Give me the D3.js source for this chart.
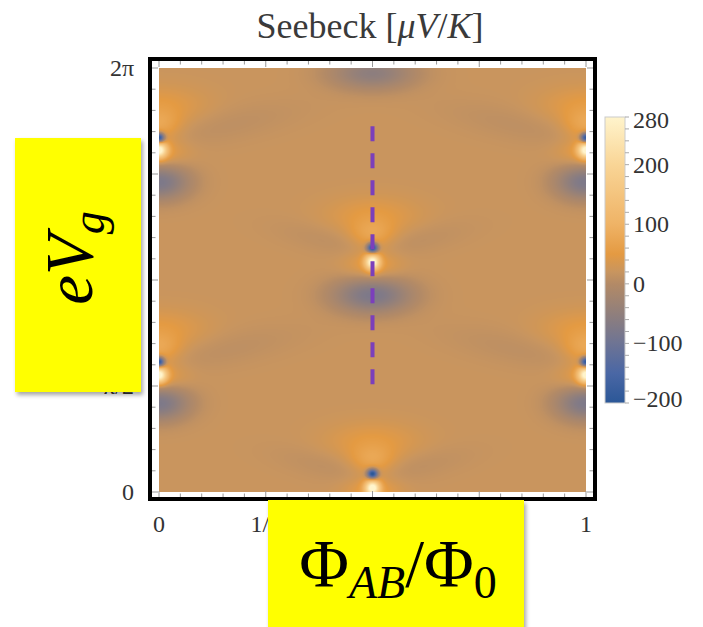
<!DOCTYPE html>
<html><head><meta charset="utf-8">
<script src="https://cdn.jsdelivr.net/npm/d3@7/dist/d3.min.js"></script>
<style>body{margin:0;background:#fff}svg{display:block}</style>
</head><body>
<svg id="chart" width="703" height="627"></svg>
<script>
// ---------------- data ----------------
const fluxTickValues = [0, 0.25, 0.5, 0.75, 1];
const fluxTickLabels = ["0", "1/4", "1/2", "3/4", "1"];
const gateTickValues = [0, 0.5, 1, 1.5, 2];            // in units of π
const gateTickLabels = ["0", "π/2", "π", "3π/2", "2π"];
const seebeckTicks = [-200, -100, 0, 100, 200, 280];
const seebeckStops = [-200, -150, -100, -50, 0, 20, 50, 100, 200, 280];
const backgroundSeebeck = 21;                          // μV/K of the flat region

// features: [Φ/Φ0, eVg (π), S (μV/K), width Φ, width eVg, tilt]
const blueDots = [
  [0, 1.670, -250, 0.009, 0.017, 0], [1, 1.670, -250, 0.009, 0.017, 0],
  [0, 0.613, -250, 0.009, 0.017, 0], [1, 0.613, -250, 0.009, 0.017, 0],
  [0.5, 1.151, -250, 0.009, 0.017, 0], [0.5, 0.085, -250, 0.009, 0.017, 0]
];
const whiteSpots = [
  [0, 1.613, 260, 0.013, 0.026, 0], [1, 1.613, 260, 0.013, 0.026, 0],
  [0, 0.552, 260, 0.013, 0.026, 0], [1, 0.552, 260, 0.013, 0.026, 0],
  [0.5, 1.085, 260, 0.012, 0.026, 0], [0.5, 0.019, 260, 0.012, 0.026, 0]
];
const whiteHalos = [
  [0, 1.600, 40, 0.045, 0.05, 0], [1, 1.600, 40, 0.045, 0.05, 0],
  [0, 0.540, 40, 0.045, 0.05, 0], [1, 0.540, 40, 0.045, 0.05, 0],
  [0.5, 1.072, 40, 0.045, 0.05, 0], [0.5, 0.008, 40, 0.045, 0.05, 0]
];
const orangeFans = [
  [0, 1.735, 45, 0.035, 0.045, 0], [1, 1.735, 45, 0.035, 0.045, 0],
  [0, 1.820, 30, 0.075, 0.065, 0], [1, 1.820, 30, 0.075, 0.065, 0],
  [0, 0.680, 45, 0.035, 0.045, 0], [1, 0.680, 45, 0.035, 0.045, 0],
  [0, 0.765, 30, 0.075, 0.065, 0], [1, 0.765, 30, 0.075, 0.065, 0],
  [0.5, 1.215, 45, 0.035, 0.045, 0], [0.5, 1.300, 30, 0.075, 0.065, 0],
  [0.5, 0.150, 45, 0.035, 0.045, 0], [0.5, 0.235, 30, 0.075, 0.065, 0]
];
const blueLobes = [
  [0, 1.462, -100, 0.05, 0.06, 0], [1, 1.462, -100, 0.05, 0.06, 0],
  [0, 0.420, -100, 0.05, 0.06, 0], [1, 0.420, -100, 0.05, 0.06, 0],
  [0.5, 0.929, -100, 0.065, 0.06, 0], [0.5, 1.975, -75, 0.07, 0.055, 0]
];
const darkBands = [
  [0.15, 1.728, -12, 0.13, 0.06, 0.39], [0.85, 1.728, -12, 0.13, 0.06, -0.39],
  [0.15, 0.671, -12, 0.13, 0.06, 0.39], [0.85, 0.671, -12, 0.13, 0.06, -0.39],
  [0.40, 1.19, -12, 0.09, 0.05, -0.39], [0.60, 1.19, -12, 0.09, 0.05, 0.39],
  [0.40, 0.124, -12, 0.09, 0.05, -0.39], [0.60, 0.124, -12, 0.09, 0.05, 0.39]
];
const cutPhi = 0.5;
const cutGate = [1.725, 0.505];

// ---------------- styles ----------------
const seebeckColors = ["#2b5797", "#4a67a5", "#6e7494", "#907f7c", "#b38a66",
                       "#c8955f", "#e49a42", "#efb366", "#f9d596", "#fff4cc"];
const serif = "'Liberation Serif', 'DejaVu Serif', serif";

const svg = d3.select("#chart");
const x = d3.scaleLinear().domain([0, 1]).range([159, 586]);
const y = d3.scaleLinear().domain([0, 2]).range([492, 68]);
const color = d3.scaleLinear().domain(seebeckStops).range(seebeckColors).clamp(true);

// yellow label boxes (drawn last, but their extents are needed to skip hidden tick labels)
const boxes = [{ x: 15, y: 138, w: 126, h: 254 }, { x: 268, y: 500, w: 256, h: 140 }];
const hidden = (px, py) => boxes.some(b => px > b.x && px < b.x + b.w && py > b.y && py < b.y + b.h);

// ---------- heat map ----------
const features = [].concat(blueDots, whiteSpots, whiteHalos, orangeFans, blueLobes, darkBands);
const x0 = x.range()[0], x1 = x.range()[1], yTop = y.range()[1], yBot = y.range()[0];
const W = Math.round(x1 - x0), H = Math.round(yBot - yTop);
const canvas = document.createElement("canvas");
canvas.width = W; canvas.height = H;
const ctx = canvas.getContext("2d");
const img = ctx.createImageData(W, H);
const lut = [];
for (let s = -200; s <= 280; s++) { const c = d3.rgb(color(s)); lut.push([c.r, c.g, c.b]); }
for (let j = 0; j < H; j++) {
  const vg = y.invert(yTop + j + 0.5);
  for (let i = 0; i < W; i++) {
    const ph = x.invert(x0 + i + 0.5);
    let s = backgroundSeebeck;
    for (const f of features) {
      const u = ph - f[0];
      const v = vg - f[1] - f[5] * u;
      s += f[2] * Math.exp(-0.5 * (u * u / (f[3] * f[3]) + v * v / (f[4] * f[4])));
    }
    const k = Math.max(0, Math.min(480, Math.round(s + 200)));
    const c = lut[k], p = 4 * (j * W + i);
    img.data[p] = c[0]; img.data[p + 1] = c[1]; img.data[p + 2] = c[2]; img.data[p + 3] = 255;
  }
}
ctx.putImageData(img, 0, 0);
svg.append("image").attr("x", x0).attr("y", yTop).attr("width", W).attr("height", H)
  .attr("preserveAspectRatio", "none").attr("href", canvas.toDataURL());

// ---------- frame and ticks ----------
svg.append("rect").attr("x", 150).attr("y", 59).attr("width", 445).attr("height", 440)
  .attr("fill", "none").attr("stroke", "#000").attr("stroke-width", 4);
const tg = svg.append("g").attr("stroke", "#999").attr("stroke-width", 1);
d3.range(0, 21).forEach(k => {
  const len = k % 5 === 0 ? 6 : 3.5;
  const px = x(k / 20), py = y(k / 10);
  tg.append("line").attr("x1", px).attr("x2", px).attr("y1", 61).attr("y2", 61 + len);
  tg.append("line").attr("x1", px).attr("x2", px).attr("y1", 497).attr("y2", 497 - len);
  tg.append("line").attr("y1", py).attr("y2", py).attr("x1", 152).attr("x2", 152 + len);
  tg.append("line").attr("y1", py).attr("y2", py).attr("x1", 593).attr("x2", 593 - len);
});

// tick labels (those lying entirely under the yellow boxes are not visible, so skipped)
const xLab = fluxTickValues.map((v, i) => ({ v, t: fluxTickLabels[i] })).filter(d => !hidden(x(d.v), 532));
svg.append("g").selectAll("text").data(xLab).join("text")
  .attr("x", d => x(d.v)).attr("y", 532).attr("text-anchor", "middle")
  .attr("font-family", serif).attr("font-size", 24).attr("fill", "#333")
  .text(d => d.t);
const yLab = gateTickValues.map((v, i) => ({ v, t: gateTickLabels[i] })).filter(d => !hidden(134, y(d.v) + 8));
svg.append("g").selectAll("text").data(yLab).join("text")
  .attr("x", 134).attr("y", d => y(d.v) + 8).attr("text-anchor", "end")
  .attr("font-family", serif).attr("font-size", 24).attr("fill", "#333")
  .text(d => d.t);

// dashed cut
svg.append("line").attr("x1", x(cutPhi)).attr("x2", x(cutPhi))
  .attr("y1", y(cutGate[0])).attr("y2", y(cutGate[1]))
  .attr("stroke", "#7b3fbb").attr("stroke-width", 4).attr("stroke-dasharray", "15 12");

// title
const title = svg.append("text").attr("x", 370).attr("y", 38).attr("text-anchor", "middle")
  .attr("font-family", serif).attr("font-size", 36).attr("fill", "#3a3a3a");
title.append("tspan").text("Seebeck [");
title.append("tspan").attr("font-style", "italic").text("μV");
title.append("tspan").text("/");
title.append("tspan").attr("font-style", "italic").text("K");
title.append("tspan").text("]");

// ---------- colour bar ----------
const cs = d3.scaleLinear().domain([-200, 280]).range([403, 117]);
const defs = svg.append("defs");
const grad = defs.append("linearGradient").attr("id", "cbar").attr("x1", 0).attr("x2", 0).attr("y1", 1).attr("y2", 0);
seebeckStops.forEach((s, i) => grad.append("stop")
  .attr("offset", (s + 200) / 480).attr("stop-color", seebeckColors[i]));
svg.append("rect").attr("x", 605).attr("y", cs(280)).attr("width", 20).attr("height", cs(-200) - cs(280))
  .attr("fill", "url(#cbar)").attr("stroke", "#ccc").attr("stroke-width", 1);
const cg = svg.append("g").attr("stroke", "#aaa").attr("stroke-width", 1);
d3.range(-200, 281, 20).forEach(v => {
  cg.append("line").attr("x1", 625).attr("x2", 629).attr("y1", cs(v)).attr("y2", cs(v));
});
svg.append("g").selectAll("text").data(seebeckTicks).join("text")
  .attr("x", 633).attr("y", d => Math.max(120, Math.min(399, cs(d))) + 8)
  .attr("font-family", serif).attr("font-size", 24).attr("fill", "#333")
  .text(d => d < 0 ? "\u2212" + Math.abs(d) : d);

// ---------- yellow label boxes ----------
const shadow = defs.append("filter").attr("id", "sh").attr("x", "-10%").attr("y", "-10%")
  .attr("width", "130%").attr("height", "130%");
shadow.append("feDropShadow").attr("dx", 2).attr("dy", 3).attr("stdDeviation", 2)
  .attr("flood-color", "#000").attr("flood-opacity", 0.35);
svg.append("g").selectAll("rect").data(boxes).join("rect")
  .attr("x", d => d.x).attr("y", d => d.y).attr("width", d => d.w).attr("height", d => d.h)
  .attr("fill", "#ffff00").attr("filter", "url(#sh)");

const ylab = svg.append("text").attr("transform", "translate(92,258) rotate(-90)")
  .attr("text-anchor", "middle").attr("font-family", serif).attr("font-size", 67)
  .attr("font-style", "italic").attr("fill", "#000");
ylab.append("tspan").text("eV");
ylab.append("tspan").attr("font-size", 46).attr("dy", 12).text("g");

const xlab = svg.append("text").attr("x", 398).attr("y", 586).attr("text-anchor", "middle")
  .attr("font-family", serif).attr("font-size", 68).attr("fill", "#000");
xlab.append("tspan").text("Φ");
xlab.append("tspan").attr("font-size", 46).attr("font-style", "italic").attr("dy", 12).text("AB");
xlab.append("tspan").attr("dy", -12).text("/Φ");
xlab.append("tspan").attr("font-size", 46).attr("dy", 12).text("0");
</script>
</body></html>
